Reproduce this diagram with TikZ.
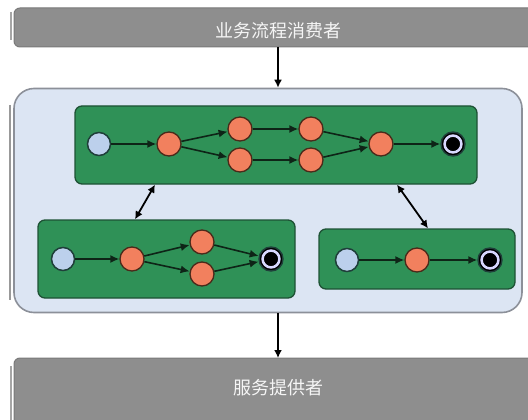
\documentclass[tikz,border=0pt]{standalone}
\usepackage{fontspec}
\newfontfamily\cjk{Noto Sans CJK SC}
\usetikzlibrary{arrows.meta}
\definecolor{barG}{HTML}{8E8E8E}
\definecolor{barEdge}{HTML}{7A7A7A}
\definecolor{paleB}{HTML}{DCE5F3}
\definecolor{paleEdge}{HTML}{8C9099}
\definecolor{grn}{HTML}{2F9157}
\definecolor{grnEdge}{HTML}{1E5235}
\definecolor{orng}{HTML}{F2805E}
\definecolor{orngEdge}{HTML}{4A2A1A}
\definecolor{startB}{HTML}{BCD0EC}
\definecolor{nodeEdge}{HTML}{1F3F3A}
\definecolor{flowC}{HTML}{0E2417}
\tikzset{
  x=1pt, y=-1pt,
  bar/.style={fill=barG, draw=barEdge, line width=1pt},
  bartext/.style={font=\cjk\fontsize{18}{20}\selectfont, text=white!92!gray},
  container/.style={fill=paleB, draw=paleEdge, line width=1.6pt, rounded corners=20pt},
  flowbox/.style={fill=grn, draw=grnEdge, line width=1.3pt, rounded corners=7pt},
  startnode/.style={circle, fill=startB, draw=nodeEdge, line width=1.5pt, minimum size=23pt, inner sep=0pt},
  actnode/.style={circle, fill=orng, draw=orngEdge, line width=1.3pt, minimum size=24pt, inner sep=0pt},
  finalnode/.style={circle, fill=black, draw=nodeEdge, line width=1.4pt, minimum size=24pt, inner sep=0pt},
  flow/.style={draw=flowC, line width=1.6pt, -{Latex[length=9pt,width=8pt]}},
  big/.style={draw=black, line width=1.8pt, -{Latex[length=8pt,width=8pt]}},
  bigd/.style={draw=black, line width=1.8pt, {Latex[length=8pt,width=8pt]}-{Latex[length=8pt,width=8pt]}}
}
\newcommand{\myfinal}[2]{%
  \node[finalnode] (#1) at (#2) {};
  \draw[white!85!blue, line width=2.6pt] (#1.center) circle (8.4pt);
  \fill[black] (#1.center) circle (6.6pt);}
\begin{document}
\begin{tikzpicture}
\useasboundingbox (0,0) rectangle (528,420);
\clip (0,0) rectangle (528,420);
\fill[white] (0,0) rectangle (528,420);
% top bar
\draw[bar, rounded corners=6pt] (14,8) -- (14,47) -- (545,47) -- (545,8) -- cycle;
\draw[gray!70, line width=1.2pt] (11,12) -- (11,40);
\node[bartext] (consumer) at (278,31) {业务流程消费者};
\coordinate (consumerB) at (278,47);
% bottom bar
\draw[bar, rounded corners=6pt] (14,430) -- (14,358) -- (545,358) -- (545,430) -- cycle;
\draw[gray!70, line width=1.2pt] (11,366) -- (11,420);
\node[bartext] (provider) at (278,388) {服务提供者};
\coordinate (providerT) at (278,358);
% container
\draw[gray!80, line width=1.2pt] (10,105) -- (10,300);
\node[container, minimum width=508pt, minimum height=224pt, inner sep=0pt] (cont) at (268,200.5) {};
% green boxes
\node[flowbox, minimum width=402pt, minimum height=78pt, inner sep=0pt] (boxA) at (276,145) {};
\node[flowbox, minimum width=257pt, minimum height=78pt, inner sep=0pt] (boxB) at (166.5,259) {};
\node[flowbox, minimum width=196pt, minimum height=60pt, inner sep=0pt] (boxC) at (417,259) {};
% outer arrows
\coordinate (x1) at (155,0);
\coordinate (x2) at (135,0);
\coordinate (x3) at (397,0);
\coordinate (x4) at (428,0);
\draw[big] (consumerB) -- (cont.north -| consumerB);
\draw[big] (cont.south -| providerT) -- (providerT);
\draw[bigd] (boxA.south -| x1) -- (boxB.north -| x2);
\draw[bigd] (boxA.south -| x3) -- (boxC.north -| x4);
% top flow
\node[startnode] (a0) at (99,144) {};
\node[actnode] (a1) at (169,144) {};
\node[actnode] (a2) at (240,129) {};
\node[actnode] (a3) at (240,160) {};
\node[actnode] (a4) at (311,129) {};
\node[actnode] (a5) at (311,160) {};
\node[actnode] (a6) at (381,144) {};
\myfinal{a7}{453,144}
\draw[flow] (a0) -- (a1);
\draw[flow] (a1) -- (a2);
\draw[flow] (a1) -- (a3);
\draw[flow] (a2) -- (a4);
\draw[flow] (a3) -- (a5);
\draw[flow] (a4) -- (a6);
\draw[flow] (a5) -- (a6);
\draw[flow] (a6) -- (a7);
% bottom-left flow
\node[startnode] (b0) at (63,259) {};
\node[actnode] (b1) at (132,259) {};
\node[actnode] (b2) at (202,242) {};
\node[actnode] (b3) at (202,274) {};
\myfinal{b4}{271,259}
\draw[flow] (b0) -- (b1);
\draw[flow] (b1) -- (b2);
\draw[flow] (b1) -- (b3);
\draw[flow] (b2) -- (b4);
\draw[flow] (b3) -- (b4);
% bottom-right flow
\node[startnode] (c0) at (347,260) {};
\node[actnode] (c1) at (417,260) {};
\myfinal{c2}{490,260}
\draw[flow] (c0) -- (c1);
\draw[flow] (c1) -- (c2);
\end{tikzpicture}
\end{document}
